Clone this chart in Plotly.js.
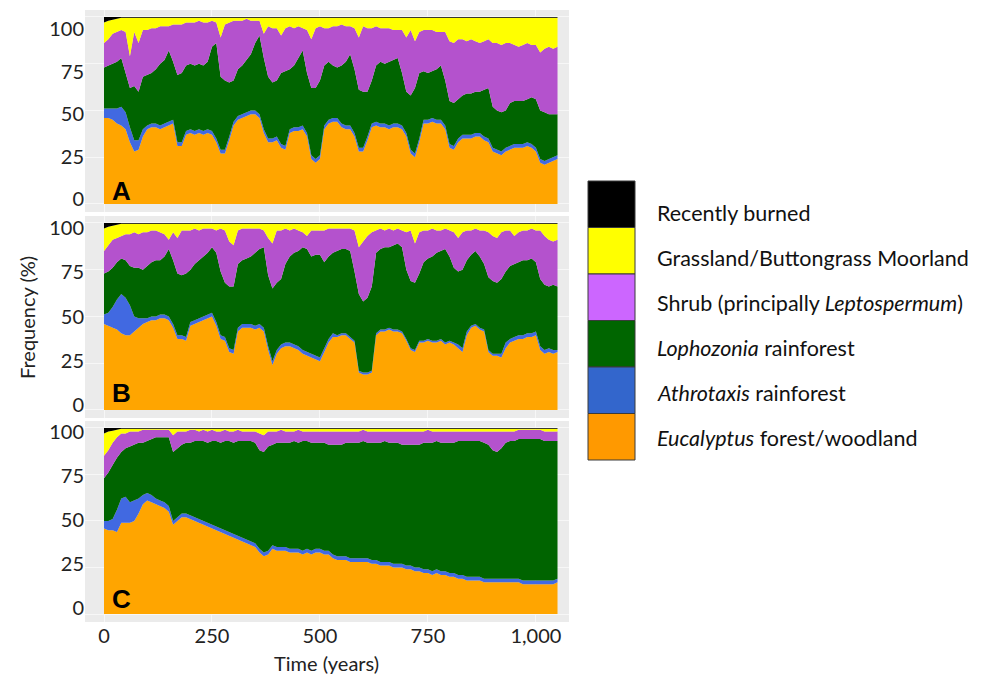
<!DOCTYPE html>
<html>
<head>
<meta charset="utf-8">
<script src="https://cdn.plot.ly/plotly-3.0.1.min.js"></script>
<style>html,body{margin:0;padding:0;background:#fff;}#chart{width:989px;height:678px;}</style>
</head>
<body>
<div id="chart"></div>
<script>
// ---- Time axis (years) ----
const years = [0,10,20,30,40,50,60,70,80,90,
  100,110,120,130,140,150,160,170,180,190,
  200,210,220,230,240,250,260,270,280,290,
  300,310,320,330,340,350,360,370,380,390,
  400,410,420,430,440,450,460,470,480,490,
  500,510,520,530,540,550,560,570,580,590,
  600,610,620,630,640,650,660,670,680,690,
  700,710,720,730,740,750,760,770,780,790,
  800,810,820,830,840,850,860,870,880,890,
  900,910,920,930,940,950,960,970,980,990,
  1000,1010,1020,1030,1040,1050];

// Cumulative upper edges (%) of each stacked class.
// ---- Panel A ----
const A_eucTop = [46,46,45,43,42,40,33,28,29,36, 40,41,41,40,41,42,43,31,31,37, 38,37,38,37,38,37,33,27,27,34,
  42,45,46,47,48,48,46,38,33,33, 34,30,29,38,39,39,40,36,24,22, 24,40,43,44,44,41,40,40,36,28,
  28,34,41,42,41,41,40,41,41,40, 36,27,25,33,43,43,44,43,43,40, 30,29,33,35,35,35,36,36,34,33,
  28,27,26,28,29,30,30,30,31,30, 28,22,21,22,23,24];
const A_athTop = [51,51,51,51,52,49,41,34,34,40, 42,43,43,42,43,44,45,33,33,39, 40,39,40,39,40,39,35,29,29,36,
  44,47,48,49,50,50,48,40,35,35, 36,32,31,40,41,41,42,38,26,24, 26,42,45,46,46,43,42,42,38,30,
  30,36,43,44,43,43,42,43,43,42, 38,29,27,35,45,45,46,45,45,42, 32,31,35,37,37,37,38,38,36,35,
  30,29,28,30,31,32,32,32,33,32, 30,24,23,24,25,26];
const A_lophTop = [73,74,75,76,78,70,62,63,60,68, 69,70,72,75,77,82,76,69,70,74, 75,74,75,74,76,84,86,68,66,65,
  66,72,74,77,80,86,90,78,68,65, 66,70,71,72,74,78,82,70,62,62, 66,74,76,74,73,74,76,80,72,61,
  60,60,66,74,76,75,76,77,78,70, 60,58,62,70,71,70,71,72,74,66, 55,54,56,58,59,59,60,60,61,62,
  52,50,49,50,54,55,55,55,56,57, 56,50,49,48,48,48];
const A_shrubTop = [86,88,91,92,93,92,79,92,86,93, 93,94,94,95,95,95,96,96,96,97, 97,97,98,97,97,98,97,89,96,97,
  98,98,98,99,98,98,98,91,95,94, 94,90,94,95,94,95,94,93,88,94, 95,94,94,95,95,96,95,95,94,89,
  95,94,94,95,94,94,94,93,93,93, 89,93,87,92,93,93,93,92,92,92, 87,86,88,88,87,88,87,86,87,88,
  86,86,85,86,86,85,84,85,86,85, 85,81,83,84,83,84];
const A_grassTop = [97,98,98.5,99,99.5,99.5,99.5,99.5,99.5,99.5, 99.5,99.5,99.5,99.5,99.5,99.5,99.5,99.5,99.5,99.5,
  99.5,99.5,99.5,99.5,99.5,99.5,99.5,99.5,99.5,99.5, 99.5,99.5,99.5,99.5,99.5,99.5,99.5,99.5,99.5,99.5,
  99.5,99.5,99.5,99.5,99.5,99.5,99.5,99.5,99.5,99.5, 99.5,99.5,99.5,99.5,99.5,99.5,99.5,99.5,99.5,99.5,
  99.5,99.5,99.5,99.5,99.5,99.5,99.5,99.5,99.5,99.5, 99.5,99.5,99.5,99.5,99.5,99.5,99.5,99.5,99.5,99.5,
  99.5,99.5,99.5,99.5,99.5,99.5,99.5,99.5,99.5,99.5, 99.5,99.5,99.5,99.5,99.5,99.5,99.5,99.5,99.5,99.5,
  99.5,99.5,99.5,99.5,99.5,99.5];

// ---- Panel B ----
const B_eucTop = [46,45,44,43,41,40,40,42,44,46, 47,48,48,49,49,48,44,38,38,37, 45,46,47,48,49,50,45,38,37,31,
  30,42,44,44,44,43,44,42,32,24, 30,33,34,34,33,32,30,29,28,27, 26,31,36,39,39,40,40,38,36,20,
  19,19,20,40,42,42,43,42,42,41, 37,32,31,36,36,37,36,36,37,35, 36,35,33,31,40,44,45,43,42,31,
  29,29,28,33,36,37,38,38,39,39, 40,32,30,31,30,31];
const B_athTop = [51,52,55,59,62,60,56,50,49,49, 49,50,50,51,51,50,46,40,40,39, 47,48,49,50,51,52,47,40,39,33,
  32,44,46,46,46,45,46,44,34,26, 32,35,36,36,35,34,32,31,30,29, 28,33,38,41,40,41,41,39,37,21,
  20,20,21,41,43,43,44,43,43,42, 38,33,32,37,37,38,37,37,38,36, 37,36,35,33,42,45,46,44,43,32,
  30,30,30,36,38,39,40,40,41,41, 42,34,32,33,32,32];
const B_lophTop = [73,74,76,79,81,80,77,76,76,75, 77,79,80,80,82,86,80,73,72,73, 75,78,80,82,84,87,84,74,68,66,
  66,78,80,81,82,84,86,87,72,65, 68,70,78,82,84,85,87,86,82,83, 83,79,82,84,85,86,86,85,74,62,
  58,60,66,84,86,87,87,88,89,87, 75,69,68,73,79,81,82,84,85,86, 82,76,74,75,80,83,85,82,78,71,
  69,68,70,74,77,78,79,80,80,81, 79,70,67,66,67,66];
const B_shrubTop = [85,88,91,92,93,94,94,95,94,95, 95,96,96,95,94,91,95,92,96,96, 96,97,96,97,97,97,96,97,96,90,
  88,96,97,97,97,97,97,96,92,89, 96,96,97,96,97,96,95,93,96,96, 96,96,97,97,97,97,97,97,96,87,
  90,93,95,96,97,96,97,96,97,96, 95,96,89,95,96,96,97,96,96,97, 96,95,92,95,96,96,97,96,96,95,
  93,92,95,96,96,93,95,96,96,97, 96,96,93,91,90,91];
const B_grassTop = [97,98,98.5,99,99.5,99.5,99.5,99.5,99.5,99.5, 99.5,99.5,99.5,99.5,99.5,99.5,99.5,99.5,99.5,99.5,
  99.5,99.5,99.5,99.5,99.5,99.5,99.5,99.5,99.5,99.5, 99.5,99.5,99.5,99.5,99.5,99.5,99.5,99.5,99.5,99.5,
  99.5,99.5,99.5,99.5,99.5,99.5,99.5,99.5,99.5,99.5, 99.5,99.5,99.5,99.5,99.5,99.5,99.5,99.5,99.5,99.5,
  99.5,99.5,99.5,99.5,99.5,99.5,99.5,99.5,99.5,99.5, 99.5,99.5,99.5,99.5,99.5,99.5,99.5,99.5,99.5,99.5,
  99.5,99.5,99.5,99.5,99.5,99.5,99.5,99.5,99.5,99.5, 99.5,99.5,99.5,99.5,99.5,99.5,99.5,99.5,99.5,99.5,
  99.5,99.5,99.5,99.5,99.5,99.5];

// ---- Panel C ----
const C_eucTop = [46,45,45,44,49,49,49,50,54,59, 61,60,59,58,57,55,48,50,52,52, 51,50,49,48,47,46,45,44,43,42,
  41,40,39,38,37,36,33,31,32,35, 34,34,34,33,33,33,32,33,32,33, 33,32,32,30,29,29,29,28,28,28,
  28,28,27,27,26,26,26,25,25,25, 24,24,23,23,22,22,21,22,21,21, 20,20,19,19,18,18,18,18,17,17,
  17,17,17,17,17,17,17,16,16,16, 16,16,16,16,16,17];
const C_athTop = [50,50,51,56,62,63,60,61,62,64, 65,64,62,61,60,58,50,52,54,54, 53,52,51,50,49,48,47,46,45,44,
  43,42,41,40,39,38,35,33,34,37, 36,36,36,35,35,35,34,35,34,35, 35,34,34,32,31,31,31,30,30,30,
  30,30,29,29,28,28,28,27,27,27, 26,26,25,25,24,24,23,24,23,23, 22,22,21,21,20,20,20,20,19,19,
  19,19,19,19,19,19,19,18,18,18, 18,18,18,18,18,19];
const C_lophTop = [73,76,80,84,87,89,90,91,92,92, 93,94,95,95,95,95,87,89,91,92, 92,93,93,93,92,93,93,92,93,93,
  92,93,93,93,93,92,88,87,90,91, 92,92,92,92,93,92,93,93,92,92, 92,92,91,91,91,91,92,92,92,92,
  93,92,92,92,92,93,92,92,92,91, 91,91,91,91,92,92,92,93,92,92, 92,92,93,93,93,93,93,93,92,91,
  88,87,89,92,93,93,94,94,94,94, 94,94,93,93,93,93];
const C_shrubTop = [85,88,92,95,97,97,98,98,98,99, 99,99,99,99,99,99,96,98,98,98, 99,99,98,99,98,99,98,98,99,98,
  98,99,98,98,98,98,97,96,98,98, 98,99,98,98,98,99,98,98,98,98, 98,98,98,98,98,98,98,98,98,98,
  99,98,98,98,98,98,98,98,98,98, 98,98,98,98,98,99,98,98,98,98, 98,98,98,98,98,98,98,98,98,98,
  98,98,98,98,98,98,99,99,99,99, 99,99,98,98,98,98];
const C_grassTop = [97,98,98.5,99,99.5,99.5,99.5,99.5,99.5,99.5, 99.5,99.5,99.5,99.5,99.5,99.5,99.5,99.5,99.5,99.5,
  99.5,99.5,99.5,99.5,99.5,99.5,99.5,99.5,99.5,99.5, 99.5,99.5,99.5,99.5,99.5,99.5,99.5,99.5,99.5,99.5,
  99.5,99.5,99.5,99.5,99.5,99.5,99.5,99.5,99.5,99.5, 99.5,99.5,99.5,99.5,99.5,99.5,99.5,99.5,99.5,99.5,
  99.5,99.5,99.5,99.5,99.5,99.5,99.5,99.5,99.5,99.5, 99.5,99.5,99.5,99.5,99.5,99.5,99.5,99.5,99.5,99.5,
  99.5,99.5,99.5,99.5,99.5,99.5,99.5,99.5,99.5,99.5, 99.5,99.5,99.5,99.5,99.5,99.5,99.5,99.5,99.5,99.5,
  99.5,99.5,99.5,99.5,99.5,99.5];

// ---- Classes (bottom to top) ----
const classNames = ['Eucalyptus forest/woodland','Athrotaxis rainforest','Lophozonia rainforest',
  'Shrub (principally Leptospermum)','Grassland/Buttongrass Moorland','Recently burned'];
const plotColors = ['#FFA500','#4169E1','#006400','#B452CD','#FFFF00','#000000'];
const legendColors = ['#FF9900','#3366CC','#006600','#CC66FF','#FFFF00','#000000'];
const legendLabels = ['<i>Eucalyptus</i> forest/woodland','<i>Athrotaxis</i> rainforest','<i>Lophozonia</i> rainforest',
  'Shrub (principally <i>Leptospermum</i>)','Grassland/Buttongrass Moorland','Recently burned'];
const yTicks = [0,25,50,75,100];
const xTicks = [0,250,500,750,1000];

function shares(tops) {
  // tops: cumulative upper edges; returns each class's share (last = remainder to 100)
  const out = [];
  let prev = years.map(() => 0);
  tops.forEach(t => { out.push(t.map((v,i) => v - prev[i])); prev = t; });
  out.push(prev.map(v => 100 - v));
  return out;
}

const panels = [
  {xa:'x',  ya:'y',  tops:[A_eucTop,A_athTop,A_lophTop,A_shrubTop,A_grassTop]},
  {xa:'x2', ya:'y2', tops:[B_eucTop,B_athTop,B_lophTop,B_shrubTop,B_grassTop]},
  {xa:'x3', ya:'y3', tops:[C_eucTop,C_athTop,C_lophTop,C_shrubTop,C_grassTop]}
];

const traces = [];
panels.forEach((p,pi) => {
  const s = shares(p.tops);
  s.forEach((vals,ci) => {
    traces.push({
      type:'scatter', mode:'lines', x:years, y:vals, xaxis:p.xa, yaxis:p.ya,
      stackgroup:'g'+pi, name:classNames[ci], line:{width:0, color:plotColors[ci]},
      fillcolor:plotColors[ci], showlegend:false
    });
  });
});
// label axes overlays (tick labels only)
[['x','y4'],['x2','y5'],['x3','y6']].forEach(([xa,ya]) => {
  traces.push({type:'scatter', mode:'lines', x:[], y:[], xaxis:xa, yaxis:ya, showlegend:false, hoverinfo:'skip'});
});

const W = 989, H = 678;
const px = v => v / W, py = v => 1 - v / H;
const xDom = [px(85), px(569)];
const xRange = [-44, 1076.6];
const tickFont = {family:'Lato, sans-serif', size:20, color:'#222'};

function xAxis(anchor, showLabels) {
  return {domain:xDom, range:xRange, anchor:anchor, showticklabels:showLabels, tickvals:xTicks,
    tickformat:',d', ticks:'', showgrid:true, gridcolor:'#f7f7f7', gridwidth:1, zeroline:false,
    showline:false, tickfont:tickFont, fixedrange:true};
}
function yData(top, bottom, anchor) {
  return {domain:[py(bottom), py(top)], range:[-4.3,103.7], anchor:anchor, showticklabels:false,
    tickvals:yTicks, ticks:'', showgrid:true, gridcolor:'#f7f7f7', gridwidth:1, zeroline:false, fixedrange:true};
}
function yLabel(over, anchor, range) {
  return {overlaying:over, anchor:anchor, side:'left', range:range, tickvals:yTicks, ticks:'',
    showgrid:false, zeroline:false, showline:false, tickfont:tickFont, fixedrange:true};
}

const shapes = [];
const annotations = [];
// legend boxes (top = Recently burned)
const boxTop = 181, boxH = 46.5;
const textY = [213, 258, 303, 348, 393, 438];
for (let k = 0; k < 6; k++) {
  const ci = 5 - k;
  shapes.push({type:'rect', xref:'paper', yref:'paper', x0:px(588), x1:px(635),
    y0:py(boxTop + (k+1)*boxH), y1:py(boxTop + k*boxH), fillcolor:legendColors[ci],
    line:{color:'#3a3a3a', width:1}});
  annotations.push({xref:'paper', yref:'paper', x:px(655), y:py(textY[k]), xanchor:'left', yanchor:'middle',
    text:legendLabels[ci], showarrow:false, font:{family:'Lato, sans-serif', size:21.5, color:'#111'}});
}
// panel letters
[[191,'A'],[393,'B'],[599,'C']].forEach(([yy,t]) => {
  annotations.push({xref:'paper', yref:'paper', x:px(121), y:py(yy), xanchor:'center', yanchor:'middle',
    text:'<b>'+t+'</b>', showarrow:false, font:{family:'Liberation Sans, Arial, sans-serif', size:26, color:'#000'}});
});
// axis titles
annotations.push({xref:'paper', yref:'paper', x:px(27), y:py(318), xanchor:'center', yanchor:'middle',
  text:'Frequency (%)', textangle:-90, showarrow:false, font:{family:'Lato, sans-serif', size:20, color:'#222'}});
annotations.push({xref:'paper', yref:'paper', x:px(326), y:py(663), xanchor:'center', yanchor:'middle',
  text:'Time (years)', showarrow:false, font:{family:'Lato, sans-serif', size:20, color:'#222'}});

const layout = {
  width:W, height:H, margin:{l:0,r:0,t:0,b:0}, paper_bgcolor:'#ffffff', plot_bgcolor:'#EBEBEB',
  showlegend:false, font:{family:'Lato, sans-serif', size:20, color:'#222'},
  xaxis: xAxis('y', false),
  xaxis2: xAxis('y2', false),
  xaxis3: xAxis('y3', true),
  yaxis: yData(10, 212, 'x'),
  yaxis2: yData(216, 418, 'x2'),
  yaxis3: yData(421, 622, 'x3'),
  yaxis4: yLabel('y', 'x', [-7.6, 111.2]),
  yaxis5: yLabel('y2', 'x2', [-7.3, 106.8]),
  yaxis6: yLabel('y3', 'x3', [-8.0, 106.25]),
  shapes: shapes,
  annotations: annotations
};

Plotly.newPlot('chart', traces, layout, {displayModeBar:false, staticPlot:true});
</script>
</body>
</html>
